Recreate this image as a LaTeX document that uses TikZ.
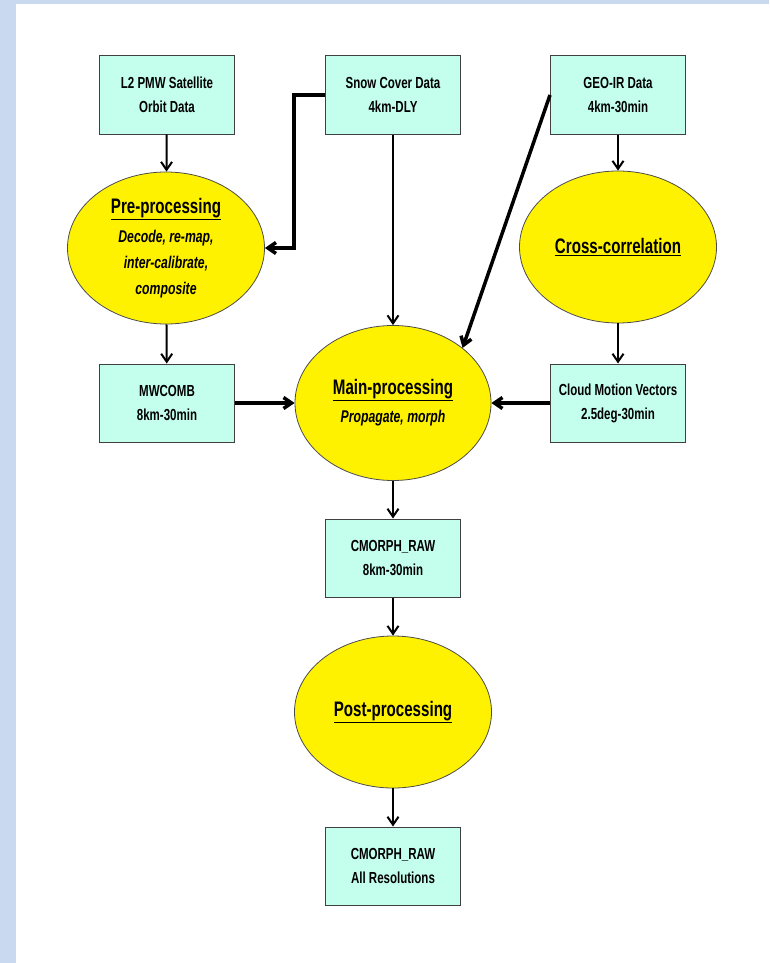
\documentclass[tikz,border=0pt]{standalone}
\usepackage{fontspec}
\setmainfont{Liberation Sans}[FakeStretch=0.72]
\usetikzlibrary{arrows.meta, shapes.geometric}

\definecolor{bandblue}{RGB}{200,217,240}
\definecolor{boxcyan}{RGB}{196,255,238}
\newcommand{\proctitle}[1]{{\fontsize{21}{25}\selectfont\upshape\underline{#1}}}

\begin{document}
\begin{tikzpicture}[x=1pt,y=-1pt,
  databox/.style={draw=black!75, line width=1pt, fill=boxcyan,
    minimum width=135pt, minimum height=78pt, inner sep=0pt, align=center,
    font=\fontsize{16}{24}\selectfont\bfseries},
  procell/.style={ellipse, draw=black!70, line width=0.8pt, fill=yellow,
    minimum width=197pt, minimum height=152pt, inner sep=0pt, align=center,
    font=\fontsize{17}{26}\selectfont\bfseries\itshape},
  flow/.style={line width=2pt, -{Straight Barb[length=8pt,width=11pt]}},
  bigflow/.style={flow, line width=3.5pt}]
% Page with the blue band on the left and on top
\useasboundingbox (0,0) rectangle (769,963);
\fill[bandblue] (0,0) rectangle (769,963);
\fill[white] (16,4) rectangle (769,963);
% Input data
\node[databox] (l2) at (167,95) {L2 PMW Satellite\\Orbit Data};
\node[databox] (snow) at (393,95) {Snow Cover Data\\4km-DLY};
\node[databox] (geo) at (618,95) {GEO-IR Data\\4km-30min};
% First stage
\node[procell] (pre) at (166,248) {\proctitle{Pre-processing}\\[3pt]Decode, re-map,\\inter-calibrate,\\composite};
\node[procell] (cross) at (618,247) {\proctitle{Cross-correlation}};
% Intermediate products
\node[databox] (mwcomb) at (167,403) {MWCOMB\\8km-30min};
\node[databox] (cmv) at (618,403) {Cloud Motion Vectors\\2.5deg-30min};
% Main stage and outputs
\node[procell, minimum width=196pt, minimum height=155pt] (main) at (393,403) {\proctitle{Main-processing}\\[2pt]Propagate, morph};
\node[databox] (raw) at (393,558) {CMORPH\_RAW\\8km-30min};
\node[procell] (post) at (393,712) {\proctitle{Post-processing}};
\node[databox] (final) at (393,866) {CMORPH\_RAW\\All Resolutions};
% Connectors
\draw[flow] (l2) -- (pre);
\draw[flow] (geo) -- (cross);
\draw[flow] (pre) -- (mwcomb);
\draw[flow] (cross) -- (cmv);
\draw[flow] (snow) -- (main);
\draw[bigflow] (snow.west) -- ++(-31,0) |- (pre.east);
\draw[bigflow] (geo.west) -- (main.north east);
\draw[bigflow] (mwcomb) -- (main);
\draw[bigflow] (cmv) -- (main);
\draw[flow] (main) -- (raw);
\draw[flow] (raw) -- (post);
\draw[flow] (post) -- (final);
\end{tikzpicture}
\end{document}
